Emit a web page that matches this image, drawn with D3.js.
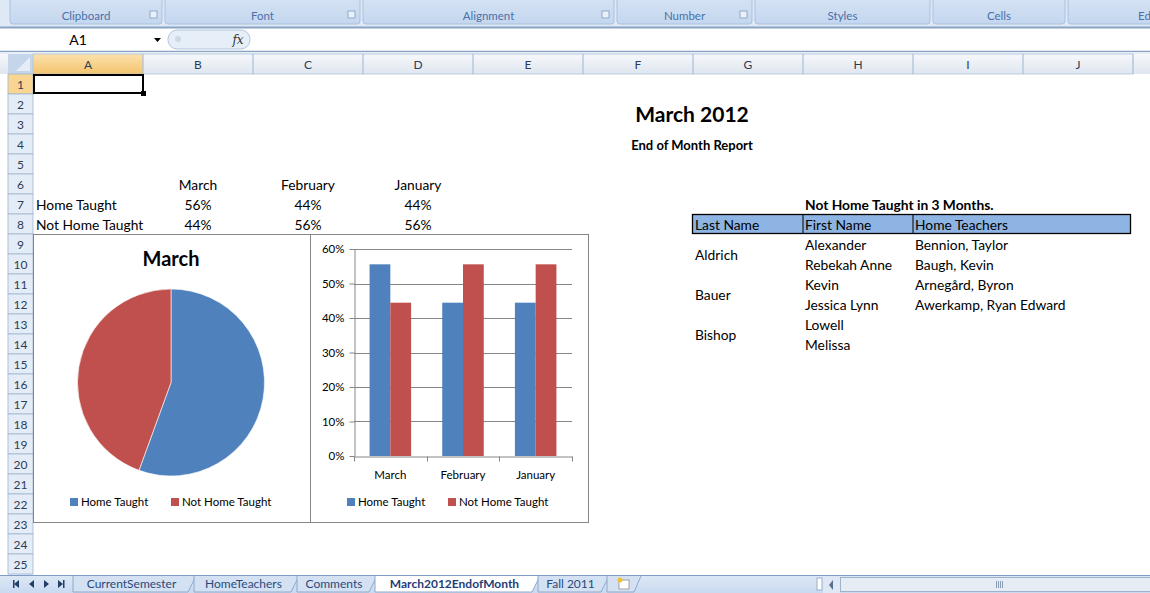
<!DOCTYPE html>
<html>
<head>
<meta charset="utf-8">
<title>March 2012 End of Month</title>
<script src="https://d3js.org/d3.v7.min.js"></script>
<style>
body { margin:0; background:#fff; }
svg { display:block; font-family: Lato, 'Open Sans', sans-serif; }
.cell { font-size:13.8px; fill:#000; }
.hdr { font-size:12px; fill:#2d3d55; }
.ui { font-size:11.5px; fill:#4a70a8; }
.chart { font-size:11.5px; fill:#000; }
</style>
</head>
<body>
<script>
// ---- data ----
var months = ["March", "February", "January"];
var series = ["Home Taught", "Not Home Taught"];
var homeTaught = [0.5556, 0.4444, 0.4444];
var notHomeTaught = [0.4444, 0.5556, 0.5556];
var yTicks = [0, 0.1, 0.2, 0.3, 0.4, 0.5, 0.6];
var colors = ["#4f81bd", "#c0504d"];

var lastNames = ["Aldrich", "Bauer", "Bishop"];
var firstNames = ["Alexander", "Rebekah Anne", "Kevin", "Jessica Lynn", "Lowell", "Melissa"];
var teachers = ["Bennion, Taylor", "Baugh, Kevin", "Arnegård, Byron", "Awerkamp, Ryan Edward"];
var tableHead = ["Last Name", "First Name", "Home Teachers"];

var ribbonGroups = ["Clipboard", "Font", "Alignment", "Number", "Styles", "Cells", "Ed"];
var colLetters = ["A", "B", "C", "D", "E", "F", "G", "H", "I", "J"];
var sheetTabs = ["CurrentSemester", "HomeTeachers", "Comments", "March2012EndofMonth", "Fall 2011"];

// ---- layout ----
var W = 1150, H = 593;
var colX0 = 33, colW = 110, rowY0 = 74, rowH = 20;
function colLeft(i){ return colX0 + i*colW; }
function rowTop(r){ return rowY0 + (r-1)*rowH; }   // r is 1-based
function rowMid(r){ return rowTop(r) + rowH/2; }

var svg = d3.select("body").append("svg").attr("width", W).attr("height", H);
var defs = svg.append("defs");
function grad(id, c1, c2){
  var g = defs.append("linearGradient").attr("id", id).attr("x1",0).attr("y1",0).attr("x2",0).attr("y2",1);
  g.append("stop").attr("offset","0%").attr("stop-color", c1);
  g.append("stop").attr("offset","100%").attr("stop-color", c2);
}
grad("colHead", "#f6f8fb", "#dfe6ef");
grad("colAct", "#fbe2ad", "#f4c36d");
grad("ribbon", "#d7e4f4", "#c4d7ef");
grad("tabbar", "#dde8f5", "#c9daf0");

//##########################
// RIBBON + FORMULA BAR
//##########################
svg.append("rect").attr("x",0).attr("y",0).attr("width",W).attr("height",27).attr("fill","#dfe9f5");
var groupEdges = [10, 165, 363, 617, 755, 933, 1068, 1200];
var rib = svg.append("g");
ribbonGroups.forEach(function(name, i){
  var x0 = groupEdges[i], x1 = groupEdges[i+1] - 3;
  rib.append("rect").attr("x", x0).attr("y", -6).attr("width", x1 - x0).attr("height", 30)
    .attr("rx", 3).attr("fill", "url(#ribbon)").attr("stroke", "#a9c1df");
  // last group is cut by the window edge
  rib.append("text").attr("class","ui").attr("x", i === 6 ? 1138 : (x0+x1)/2).attr("y", 20)
    .attr("text-anchor", i === 6 ? "start" : "middle").text(name);
  if (i < 4) {
    rib.append("rect").attr("x", x1-12).attr("y", 11).attr("width", 7).attr("height", 7)
      .attr("fill","#e9f0f8").attr("stroke","#7f9cc4").attr("stroke-width",0.8);
  }
});
svg.append("line").attr("x1",0).attr("x2",W).attr("y1",27.5).attr("y2",27.5).attr("stroke","#8aa3c4").attr("stroke-width",2);

// formula bar
svg.append("rect").attr("x",0).attr("y",29).attr("width",W).attr("height",22).attr("fill","#fff");
svg.append("text").attr("x",78).attr("y",45).attr("text-anchor","middle").attr("font-size",14).attr("fill","#000").text("A1");
svg.append("path").attr("d","M154,38 l7,0 l-3.5,4 z").attr("fill","#000");
svg.append("rect").attr("x",168).attr("y",30).attr("width",82).attr("height",19).attr("rx",9)
  .attr("fill","#e6eef8").attr("stroke","#b3c5dc");
svg.append("circle").attr("cx",178).attr("cy",39).attr("r",3).attr("fill","#cfd9e6");
svg.append("text").attr("x",238).attr("y",44).attr("text-anchor","middle").attr("font-size",12)
  .attr("font-style","italic").attr("font-family","'DejaVu Serif', serif").attr("fill","#333").text("fx");
svg.append("line").attr("x1",0).attr("x2",W).attr("y1",51.5).attr("y2",51.5).attr("stroke","#8aa3c4").attr("stroke-width",1.5);
svg.append("rect").attr("x",0).attr("y",52).attr("width",W).attr("height",2).attr("fill","#e8eef6");

//##########################
// GRID HEADERS
//##########################
var hdr = svg.append("g");
hdr.append("rect").attr("x",0).attr("y",54).attr("width",W).attr("height",20).attr("fill","url(#colHead)");
hdr.append("rect").attr("x",8).attr("y",54).attr("width",25).attr("height",20).attr("fill","#c6d6ea");
hdr.append("path").attr("d","M30,57 L30,71 L16,71 z").attr("fill","#e6edf6");
colLetters.forEach(function(c, i){
  var x = colLeft(i);
  hdr.append("rect").attr("x", x).attr("y", 54).attr("width", colW).attr("height", 20)
    .attr("fill", i === 0 ? "url(#colAct)" : "none").attr("stroke", "#b0c3d9").attr("stroke-width",0.8);
  hdr.append("text").attr("class","hdr").attr("x", x + colW/2).attr("y", 69).attr("text-anchor","middle").text(c);
});
// partial column K at the right edge
hdr.append("line").attr("x1",colLeft(10)).attr("x2",colLeft(10)).attr("y1",54).attr("y2",74).attr("stroke","#b0c3d9");
// row headers
hdr.append("rect").attr("x",8).attr("y",74).attr("width",25).attr("height",501).attr("fill","#e4ecf7");
d3.range(1, 26).forEach(function(r){
  hdr.append("rect").attr("x",8).attr("y",rowTop(r)).attr("width",25).attr("height",rowH)
    .attr("fill", r === 1 ? "#f8d590" : "#e4ecf7").attr("stroke","#9eb6ce").attr("stroke-width",0.8);
  hdr.append("text").attr("class","hdr").attr("x",20.5).attr("y",rowMid(r)+4.5).attr("text-anchor","middle").text(r);
});
// selected cell A1
svg.append("rect").attr("x",colLeft(0)+1).attr("y",rowTop(1)+1).attr("width",colW-1).attr("height",rowH-2)
  .attr("fill","none").attr("stroke","#000").attr("stroke-width",2);
svg.append("rect").attr("x",colLeft(1)-2).attr("y",rowTop(2)-3).attr("width",5).attr("height",5).attr("fill","#000");

//##########################
// TITLES + SMALL TABLE
//##########################
svg.append("text").attr("x",692).attr("y",122).attr("text-anchor","middle")
  .attr("font-size",21).attr("font-weight","bold").text("March 2012");
svg.append("text").attr("x",692).attr("y",rowMid(4)+6).attr("text-anchor","middle")
  .attr("font-size",13).attr("font-weight","bold").text("End of Month Report");

months.forEach(function(m, i){
  var cx = colLeft(i+1) + colW/2;
  svg.append("text").attr("class","cell").attr("x",cx).attr("y",rowMid(6)+6).attr("text-anchor","middle").text(m);
  svg.append("text").attr("class","cell").attr("x",cx).attr("y",rowMid(7)+6).attr("text-anchor","middle").text(d3.format(".0%")(homeTaught[i]));
  svg.append("text").attr("class","cell").attr("x",cx).attr("y",rowMid(8)+6).attr("text-anchor","middle").text(d3.format(".0%")(notHomeTaught[i]));
});
series.forEach(function(s, i){
  svg.append("text").attr("class","cell").attr("x",colLeft(0)+3).attr("y",rowMid(7+i)+6).text(s);
});

//##########################
// NOT HOME TAUGHT TABLE
//##########################
var tx = [colLeft(6), colLeft(7), colLeft(8), colLeft(10) - 2];
svg.append("text").attr("class","cell").attr("font-weight","bold").attr("x",tx[1]+2).attr("y",rowMid(7)+6)
  .text("Not Home Taught in 3 Months.");
svg.append("rect").attr("x",tx[0]-0.5).attr("y",rowTop(8)+0.5).attr("width",tx[3]-tx[0]).attr("height",rowH-1)
  .attr("fill","#8db4e2").attr("stroke","#000").attr("stroke-width",1.3);
tableHead.forEach(function(h, i){
  if (i > 0) svg.append("line").attr("x1",tx[i]).attr("x2",tx[i]).attr("y1",rowTop(8)).attr("y2",rowTop(9)).attr("stroke","#000");
  svg.append("text").attr("class","cell").attr("x",tx[i]+2).attr("y",rowMid(8)+6).text(h);
});
lastNames.forEach(function(n, i){
  svg.append("text").attr("class","cell").attr("x",tx[0]+2).attr("y",rowTop(9+2*i)+rowH+6).text(n);
});
firstNames.forEach(function(n, i){
  svg.append("text").attr("class","cell").attr("x",tx[1]+2).attr("y",rowMid(9+i)+6).text(n);
});
teachers.forEach(function(n, i){
  svg.append("text").attr("class","cell").attr("x",tx[2]+2).attr("y",rowMid(9+i)+6).text(n);
});

//##########################
// PIE CHART
//##########################
var pieBox = {x0: 33.5, x1: 310.5, y0: 234.5, y1: 522.5};
var pieG = svg.append("g");
pieG.append("rect").attr("x",pieBox.x0).attr("y",pieBox.y0).attr("width",pieBox.x1-pieBox.x0).attr("height",pieBox.y1-pieBox.y0)
  .attr("fill","#fff").attr("stroke","#868686");
pieG.append("text").attr("x",171).attr("y",266).attr("text-anchor","middle").attr("font-size",20).attr("font-weight","bold").text(months[0]);
var marchVals = [homeTaught[0], notHomeTaught[0]];
var pie = d3.pie().sort(null).value(function(d){ return d; });
var arc = d3.arc().innerRadius(0).outerRadius(93.5);
pieG.append("g").attr("transform","translate(171,382.5)")
  .selectAll("path").data(pie(marchVals)).join("path")
  .attr("d", arc).attr("fill", function(d, i){ return colors[i]; })
  .attr("stroke","#fff").attr("stroke-width",0.6);

function legend(g, xs, y){
  series.forEach(function(s, i){
    g.append("rect").attr("x",xs[i]).attr("y",y-4).attr("width",8).attr("height",8).attr("fill",colors[i]);
    g.append("text").attr("class","chart").attr("x",xs[i]+11).attr("y",y+4).text(s);
  });
}
legend(pieG, [70, 171], 502);

//##########################
// BAR CHART
//##########################
var barBox = {x0: 310.5, x1: 588.5};
var barG = svg.append("g");
barG.append("rect").attr("x",barBox.x0).attr("y",pieBox.y0).attr("width",barBox.x1-barBox.x0).attr("height",pieBox.y1-pieBox.y0)
  .attr("fill","#fff").attr("stroke","#868686");

var x0 = d3.scaleBand().domain(months).range([354, 572]).paddingInner(0).paddingOuter(0);
var x1 = d3.scaleBand().domain(series).range([0, x0.bandwidth()]).paddingInner(0).paddingOuter(0.75);
var y = d3.scaleLinear().domain([0, 0.6]).range([456, 249]);

// gridlines
barG.append("g").selectAll("line").data(yTicks.slice(1)).join("line")
  .attr("x1",354).attr("x2",572)
  .attr("y1",function(d){ return Math.round(y(d))+0.5; }).attr("y2",function(d){ return Math.round(y(d))+0.5; })
  .attr("stroke","#868686");

var yAxis = barG.append("g").attr("transform","translate(354.5,0)")
  .call(d3.axisLeft(y).tickValues(yTicks).tickFormat(d3.format(".0%")).tickSize(5).tickSizeOuter(0));
yAxis.select(".domain").attr("stroke","#868686");
yAxis.selectAll(".tick line").attr("stroke","#868686");
yAxis.selectAll(".tick text").attr("font-family","Lato, sans-serif").attr("font-size",11.5).attr("fill","#000").attr("x",-10);

var bars = barG.append("g").selectAll("g").data(months).join("g")
  .attr("transform", function(m){ return "translate(" + x0(m) + ",0)"; });
bars.selectAll("rect").data(function(m, i){ return [homeTaught[i], notHomeTaught[i]]; }).join("rect")
  .attr("x", function(d, j){ return x1(series[j]); })
  .attr("width", x1.bandwidth())
  .attr("y", function(d){ return y(d); })
  .attr("height", function(d){ return y(0) - y(d); })
  .attr("fill", function(d, j){ return colors[j]; });

var xAxis = barG.append("g").attr("transform","translate(0,456.5)")
  .call(d3.axisBottom(x0).tickSize(0).tickPadding(14));
xAxis.select(".domain").attr("stroke","#868686");
xAxis.selectAll(".tick text").attr("font-family","Lato, sans-serif").attr("font-size",11.5).attr("fill","#000");
// category boundary ticks
xAxis.append("g").selectAll("line").data(months.concat(["end"])).join("line")
  .attr("x1", function(m, i){ return Math.round(354 + i*x0.step()) + 0.5; })
  .attr("x2", function(m, i){ return Math.round(354 + i*x0.step()) + 0.5; })
  .attr("y1",0).attr("y2",5).attr("stroke","#868686");

legend(barG, [347, 448], 502);

//##########################
// SHEET TABS + SCROLLBAR
//##########################
var tabY = 575;
svg.append("rect").attr("x",0).attr("y",tabY).attr("width",W).attr("height",H-tabY).attr("fill","url(#tabbar)");
svg.append("line").attr("x1",0).attr("x2",W).attr("y1",tabY+0.5).attr("y2",tabY+0.5).attr("stroke","#7d9cc6");
// nav arrows: first, prev, next, last
svg.append("path").attr("d","M19,580 l-5,4 l5,4 z").attr("fill","#243e6b");
svg.append("path").attr("d","M34,580 l-5,4 l5,4 z").attr("fill","#243e6b");
svg.append("path").attr("d","M44,580 l5,4 l-5,4 z").attr("fill","#243e6b");
svg.append("path").attr("d","M58,580 l5,4 l-5,4 z").attr("fill","#243e6b");
svg.append("rect").attr("x",13).attr("y",580).attr("width",1.5).attr("height",8).attr("fill","#243e6b");
svg.append("rect").attr("x",63).attr("y",580).attr("width",1.5).attr("height",8).attr("fill","#243e6b");

var tabEdges = [73, 194, 297, 375, 538, 607];
sheetTabs.forEach(function(t, i){
  var a = tabEdges[i], b = tabEdges[i+1];
  var active = (i === 3);
  svg.append("path").attr("d","M" + a + "," + (tabY+1) + " L" + (a) + "," + (H-1) + " L" + (b-6) + "," + (H-1) + " L" + (b+2) + "," + (tabY+1))
    .attr("fill", active ? "#ffffff" : "#d3e1f3").attr("stroke","#8ea8cb");
  svg.append("text").attr("x",(a+b)/2 - 2).attr("y",588).attr("text-anchor","middle")
    .attr("font-size",12).attr("font-weight", active ? "bold" : "normal")
    .attr("fill", active ? "#1f3d78" : "#2b4a7c").text(t);
});
svg.append("path").attr("d","M607," + (tabY+1) + " L607,592 L634,592 L641," + (tabY+1)).attr("fill","#d3e1f3").attr("stroke","#8ea8cb");
svg.append("rect").attr("x",619).attr("y",580).attr("width",10).attr("height",9).attr("fill","#fff").attr("stroke","#8c8c8c").attr("stroke-width",0.8);
svg.append("circle").attr("cx",620).attr("cy",580).attr("r",2.5).attr("fill","#f1c232");

// scrollbar
svg.append("rect").attr("x",817).attr("y",578).attr("width",5).attr("height",12).attr("fill","#fff").attr("stroke","#9ab0cc");
svg.append("rect").attr("x",823).attr("y",577).attr("width",17).attr("height",16).attr("fill","#dfe8f4");
svg.append("path").attr("d","M833,580 l-4,5 l4,5 z").attr("fill","#5a6f8f");
svg.append("rect").attr("x",840.5).attr("y",577.5).attr("width",320).attr("height",14).attr("fill","#e6ecf4").attr("stroke","#9fb3cc");
d3.range(4).forEach(function(k){
  svg.append("line").attr("x1",996+2*k+0.5).attr("x2",996+2*k+0.5).attr("y1",581).attr("y2",588).attr("stroke","#8a9bb3");
});
</script>
</body>
</html>
